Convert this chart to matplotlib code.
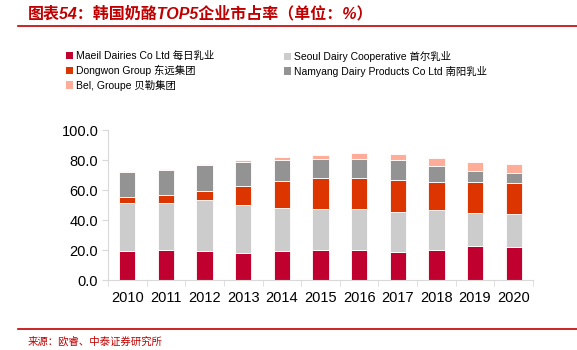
"""
韩国奶酪 TOP5 企业市占率 - 堆叠柱状图
"""

import matplotlib
matplotlib.use("Agg")
import matplotlib.pyplot as plt
from matplotlib.patches import Patch
from matplotlib.lines import Line2D
import numpy as np

plt.rcParams['font.family'] = ['Liberation Sans', 'Noto Sans CJK SC', 'DejaVu Sans']

years = ['2010', '2011', '2012', '2013', '2014', '2015',
         '2016', '2017', '2018', '2019', '2020']

# parts de marché (%)
maeil = [19.6, 20.0, 19.6, 17.8, 19.6, 20.0, 19.8, 18.4, 20.2, 22.4, 22.2]
seoul = [32.0, 31.3, 33.7, 32.2, 28.6, 27.3, 27.5, 26.7, 26.2, 22.3, 21.6]
dongwon = [4.0, 5.6, 6.3, 12.9, 18.0, 20.9, 20.9, 21.8, 19.2, 20.9, 20.9]
namyang = [16.2, 16.7, 16.8, 16.0, 13.8, 12.7, 12.7, 13.1, 10.2, 7.3, 6.9]
bel = [0.7, 0.6, 0.9, 1.1, 1.8, 2.7, 3.8, 4.2, 5.5, 5.8, 5.7]

series = [
    ('Maeil Dairies Co Ltd 每日乳业', maeil, '#C0002F'),
    ('Seoul Dairy Cooperative 首尔乳业', seoul, '#CCCCCC'),
    ('Dongwon Group 东远集团', dongwon, '#DD3500'),
    ('Namyang Dairy Products Co Ltd 南阳乳业', namyang, '#939393'),
    ('Bel, Groupe 贝勒集团', bel, '#FFAD99'),
]

RED = '#C00000'

fig = plt.figure(figsize=(5.77, 3.5), dpi=100)

# titre et lignes rouges
fig.text(28 / 577, 1 - 14 / 350, '图表54：韩国奶酪TOP5企业市占率（单位：%）',
         color=RED, fontsize=11.5, fontweight='bold', fontstyle='italic',
         va='center', ha='left')
fig.add_artist(Line2D([18 / 577, 1], [1 - 26 / 350] * 2, color=RED, lw=1.2))
fig.add_artist(Line2D([18 / 577, 1], [1 - 329 / 350] * 2, color=RED, lw=1.2))
fig.text(28 / 577, 1 - 342 / 350, '来源：欧睿、中泰证券研究所',
         color=RED, fontsize=7.5, va='center', ha='left')

ax = fig.add_axes([108 / 577, 70 / 350, 425 / 577, 150 / 350])

x = np.arange(len(years))
bottom = np.zeros(len(years))
handles = {}
for label, vals, color in series:
    ax.bar(x, vals, bottom=bottom, width=0.42, color=color,
           edgecolor='white', linewidth=0.6)
    bottom += np.array(vals)
    handles[label] = Patch(facecolor=color, edgecolor='none')

ax.set_xlim(-0.5, len(years) - 0.5)
ax.set_ylim(0, 100)
ax.set_yticks(np.arange(0, 101, 20))
ax.set_yticklabels([f'{v:.1f}' for v in np.arange(0, 101, 20)], fontsize=10.5)
ax.set_xticks(x)
ax.set_xticklabels(years, fontsize=10.5)
ax.set_xticks(np.arange(-0.5, len(years), 1), minor=True)
ax.tick_params(axis='x', which='major', length=0, pad=8)
ax.tick_params(axis='x', which='minor', length=4, color='#D9D9D9')
ax.tick_params(axis='y', length=4, color='#D9D9D9', pad=3)

for side in ['top', 'right']:
    ax.spines[side].set_visible(False)
for side in ['left', 'bottom']:
    ax.spines[side].set_color('#D9D9D9')

# légende sur deux colonnes
col1 = [series[0][0], series[2][0], series[4][0]]
col2 = [series[1][0], series[3][0]]
leg_kw = dict(frameon=False, fontsize=7.5, handlelength=0.7, handleheight=0.7,
              handletextpad=0.3, labelspacing=0.35, borderaxespad=0, borderpad=0)
fig.legend([handles[k] for k in col1], col1, loc='upper left',
           bbox_to_anchor=(66 / 577, 1 - 51 / 350), **leg_kw)
fig.legend([handles[k] for k in col2], col2, loc='upper left',
           bbox_to_anchor=(284 / 577, 1 - 51 / 350), **leg_kw)

fig.savefig('out.png', dpi=100)
